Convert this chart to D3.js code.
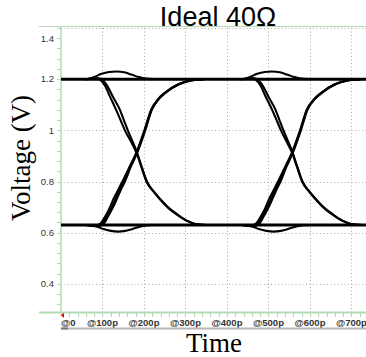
<!DOCTYPE html>
<html>
<head>
<meta charset="utf-8">
<script src="https://cdn.jsdelivr.net/npm/d3@7"></script>
<style>
  body { margin: 0; background: #fff; }
  svg { display: block; }
</style>
</head>
<body>
<svg width="366" height="357"></svg>
<script>
// tick values (time in ps, voltage in V)
var timeTicks = [0, 100, 200, 300, 400, 500, 600, 700];
var timeLabels = ["@0", "@100p", "@200p", "@300p", "@400p", "@500p", "@600p", "@700p"];
var voltTicks = [0.4, 0.6, 0.8, 1.0, 1.2, 1.4];
var voltLabels = ["0.4", "0.6", "0.8", "1", "1.2", "1.4"];

// settled levels
var highLevel = [[0, 1.2], [735, 1.2]];
var lowLevel = [[0, 0.63], [735, 0.63]];

// first transition (crossing ~182p)
var rise1a = [[60,0.63],[82,0.628],[95,0.636],[106,0.662],[116,0.692],[126,0.73],[137,0.765],[148,0.8],[165,0.857],[182,0.915],[201,1.0],[217,1.08],[234,1.122],[251,1.148],[283,1.18],[315,1.196],[345,1.2]];
var rise1b = [[60,0.63],[86,0.627],[99,0.636],[110,0.662],[121,0.694],[131,0.73],[141,0.765],[151,0.8],[167,0.857],[183,0.914],[202,1.0],[218,1.08],[235,1.122],[252,1.148],[284,1.18],[316,1.196],[345,1.2]];
var rise1c = [[60,0.63],[88,0.625],[102,0.634],[113,0.662],[124,0.695],[134,0.73],[144,0.767],[154,0.8],[168,0.857],[184,0.914],[203,1.0],[219,1.081],[236,1.123],[253,1.148],[285,1.181],[317,1.196],[345,1.2]];
var fall1a = [[60,1.2],[85,1.203],[94,1.198],[106,1.174],[118,1.132],[132,1.083],[143,1.042],[154,1.0],[168,0.958],[182,0.912],[194,0.855],[206,0.8],[222,0.762],[239,0.73],[260,0.695],[283,0.667],[305,0.645],[323,0.634],[350,0.63]];
var fall1b = [[60,1.2],[90,1.203],[100,1.197],[112,1.172],[126,1.128],[142,1.08],[151,1.042],[161,1.0],[172,0.958],[183,0.914],[195,0.855],[207,0.8],[223,0.762],[240,0.73],[261,0.695],[284,0.667],[306,0.645],[324,0.634],[350,0.63]];
var bump1 = [[55,1.2],[68,1.202],[82,1.21],[98,1.221],[116,1.228],[134,1.23],[152,1.227],[170,1.218],[188,1.208],[205,1.202],[222,1.2]];
var dip1 = [[55,0.63],[72,0.629],[86,0.624],[102,0.614],[120,0.607],[137,0.604],[155,0.607],[174,0.615],[192,0.624],[210,0.629],[228,0.63]];

// second transition (crossing ~557p)
var rise2a = [[435,0.63],[457,0.628],[470,0.636],[481,0.662],[491,0.692],[501,0.73],[512,0.765],[523,0.8],[540,0.857],[557,0.915],[576,1.0],[592,1.08],[610,1.122],[628,1.148],[660,1.18],[692,1.196],[722,1.2]];
var rise2b = [[435,0.63],[461,0.627],[474,0.636],[485,0.662],[496,0.694],[506,0.73],[516,0.765],[526,0.8],[542,0.857],[558,0.914],[577,1.0],[593,1.08],[611,1.122],[629,1.148],[661,1.18],[693,1.196],[722,1.2]];
var rise2c = [[435,0.63],[463,0.625],[477,0.634],[488,0.662],[499,0.695],[509,0.73],[519,0.767],[529,0.8],[543,0.857],[559,0.914],[578,1.0],[594,1.081],[612,1.123],[630,1.148],[662,1.181],[694,1.196],[722,1.2]];
var fall2a = [[435,1.2],[460,1.203],[469,1.198],[481,1.174],[493,1.132],[508,1.083],[519,1.042],[530,1.0],[543,0.958],[557,0.912],[569,0.855],[581,0.8],[597,0.762],[614,0.73],[635,0.695],[658,0.667],[680,0.645],[698,0.634],[725,0.63]];
var fall2b = [[435,1.2],[465,1.203],[475,1.197],[487,1.172],[501,1.128],[517,1.08],[526,1.042],[536,1.0],[547,0.958],[558,0.914],[570,0.855],[582,0.8],[598,0.762],[615,0.73],[636,0.695],[659,0.667],[681,0.645],[699,0.634],[725,0.63]];
var bump2 = [[430,1.2],[443,1.202],[457,1.21],[473,1.221],[491,1.228],[509,1.23],[527,1.227],[545,1.218],[563,1.208],[580,1.202],[597,1.2]];
var dip2 = [[430,0.63],[447,0.629],[461,0.624],[477,0.614],[495,0.607],[512,0.604],[530,0.607],[549,0.615],[567,0.624],[585,0.629],[603,0.63]];

var traces = [rise1a, rise1b, rise1c, fall1a, fall1b, bump1, dip1,
              rise2a, rise2b, rise2c, fall2a, fall2b, bump2, dip2];

var svg = d3.select("svg");
// plot edges (window.top is reserved, so prefixed names)
var pLeft = 61, pRight = 366, pTop = 28, pBottom = 312;
var green = "#b4dab4";

var x = d3.scaleLinear().domain([0, 735]).range([pLeft, pRight]);
var y = d3.scaleLinear().domain([0.29, 1.4]).range([pBottom, pTop]);

svg.append("defs").append("clipPath").attr("id", "plot")
  .append("rect").attr("x", pLeft).attr("y", pTop - 2).attr("width", pRight - pLeft).attr("height", pBottom - pTop + 2);

// title
svg.append("text")
  .attr("x", 218).attr("y", 26)
  .attr("text-anchor", "middle")
  .style("font-family", "'Liberation Sans', sans-serif").style("font-size", "27px")
  .text("Ideal 40\u03A9");

// frame line on top
svg.append("line").attr("x1", 39).attr("x2", pRight).attr("y1", 26.5).attr("y2", 26.5)
  .attr("stroke", green).attr("stroke-width", 1);

// dotted grid
svg.append("g").selectAll("line")
  .data(timeTicks.slice(1))
  .enter().append("line")
    .attr("x1", function(d) { return Math.round(x(d)) + 0.5; })
    .attr("x2", function(d) { return Math.round(x(d)) + 0.5; })
    .attr("y1", pTop).attr("y2", pBottom)
    .attr("stroke", "#aaa").attr("stroke-dasharray", "1,2.5");

svg.append("g").selectAll("line")
  .data(voltTicks)
  .enter().append("line")
    .attr("x1", pLeft).attr("x2", pRight)
    .attr("y1", function(d) { return Math.round(y(d)) + 0.5; })
    .attr("y2", function(d) { return Math.round(y(d)) + 0.5; })
    .attr("stroke", "#aaa").attr("stroke-dasharray", "1,2.5");

// y axis: minor ticks every 0.04 V
var yMinor = d3.range(0.32, 1.401, 0.04);
svg.append("g").selectAll("line")
  .data(yMinor)
  .enter().append("line")
    .attr("x1", pLeft - 4).attr("x2", pLeft)
    .attr("y1", function(d) { return Math.round(y(d)) + 0.5; })
    .attr("y2", function(d) { return Math.round(y(d)) + 0.5; })
    .attr("stroke", green);

svg.append("line").attr("x1", pLeft).attr("x2", pLeft).attr("y1", 26).attr("y2", pBottom)
  .attr("stroke", green).attr("stroke-width", 1.5);

svg.append("g").selectAll("text")
  .data(voltTicks)
  .enter().append("text")
    .attr("x", 54)
    .attr("y", function(d) { return d === 1.4 ? y(1.36) : y(d); })
    .attr("dy", "0.35em")
    .attr("text-anchor", "end")
    .style("font-family", "'Liberation Sans', sans-serif").style("font-size", "9.5px")
    .attr("fill", "#333")
    .text(function(d, i) { return voltLabels[i]; });

// x axis: ticks every 20p
var xMinor = d3.range(0, 721, 20);
svg.append("g").selectAll("line")
  .data(xMinor)
  .enter().append("line")
    .attr("x1", function(d) { return Math.round(x(d)) + 0.5; })
    .attr("x2", function(d) { return Math.round(x(d)) + 0.5; })
    .attr("y1", pBottom).attr("y2", pBottom + 5)
    .attr("stroke", green);

svg.append("line").attr("x1", 39).attr("x2", pRight).attr("y1", pBottom + 0.5).attr("y2", pBottom + 0.5)
  .attr("stroke", green).attr("stroke-width", 2);

svg.append("g").selectAll("text")
  .data(timeTicks)
  .enter().append("text")
    .attr("x", function(d) { return d === 0 ? pLeft : x(d); })
    .attr("y", 326)
    .attr("text-anchor", function(d) { return d === 0 ? "start" : "middle"; })
    .style("font-family", "'Liberation Sans', sans-serif").style("font-size", "9.5px")
    .style("font-weight", "bold")
    .attr("fill", "#333")
    .text(function(d, i) { return timeLabels[i]; });

// scroll bar under the labels
svg.append("line").attr("x1", pLeft).attr("x2", pRight).attr("y1", 328.5).attr("y2", 328.5)
  .attr("stroke", "#b8b8b8").attr("stroke-width", 2);
svg.append("line").attr("x1", pLeft).attr("x2", pLeft + 7).attr("y1", 328.5).attr("y2", 328.5)
  .attr("stroke", "#777").attr("stroke-width", 2);

// red cursor marker
svg.append("path")
  .attr("d", "M" + (pLeft + 3) + "," + (pBottom + 1) + "L" + pLeft + "," + (pBottom + 3) + "L" + (pLeft + 3) + "," + (pBottom + 6) + "Z")
  .attr("fill", "#e00000");

// axis titles
svg.append("text")
  .attr("transform", "translate(30,158) rotate(-90)")
  .attr("text-anchor", "middle")
  .style("font-family", "'Liberation Serif', serif").style("font-size", "27px")
  .text("Voltage (V)");

svg.append("text")
  .attr("x", 214).attr("y", 352)
  .attr("text-anchor", "middle")
  .style("font-family", "'Liberation Serif', serif").style("font-size", "27px")
  .text("Time");

// eye traces
var line = d3.line()
  .x(function(d) { return x(d[0]); })
  .y(function(d) { return y(d[1]); })
  .curve(d3.curveMonotoneX);

var g = svg.append("g").attr("clip-path", "url(#plot)");

g.selectAll(".level")
  .data([highLevel, lowLevel])
  .enter().append("path")
    .attr("class", "level")
    .attr("d", line)
    .attr("fill", "none").attr("stroke", "#000").attr("stroke-width", 3);

g.selectAll(".trace")
  .data(traces)
  .enter().append("path")
    .attr("class", "trace")
    .attr("d", line)
    .attr("fill", "none").attr("stroke", "#000").attr("stroke-width", 2.1);
</script>
</body>
</html>
